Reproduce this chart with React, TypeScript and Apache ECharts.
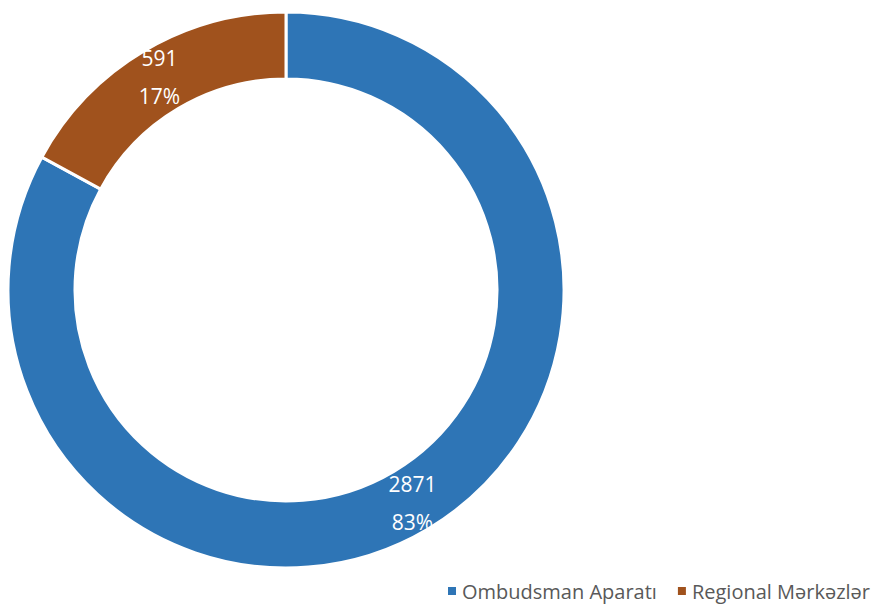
import React, { useEffect, useRef } from "react";
import * as echarts from "echarts";

const categories = ["Ombudsman Aparatı", "Regional Mərkəzlər"];
const values = [2871, 591];
const colors = ["#2E75B6", "#A0521D"];

export default function App() {
  const ref = useRef<HTMLDivElement>(null);
  useEffect(() => {
    if (!ref.current) return;
    const chart = echarts.init(ref.current, undefined, { renderer: "svg" });
    chart.setOption({
      animation: false,
      backgroundColor: "#ffffff",
      color: colors,
      legend: {
        data: categories,
        right: 4,
        top: 580,
        padding: 0,
        icon: "rect",
        itemWidth: 10,
        itemHeight: 10,
        itemGap: 19,
        textStyle: { fontFamily: "Open Sans", fontSize: 20, color: "#595959", lineHeight: 22 },
      },
      series: [
        {
          type: "pie",
          center: [286, 290],
          radius: [211, 278],
          startAngle: 90,
          clockwise: true,
          data: categories.map((name, i) => ({ name, value: values[i] })),
          itemStyle: { borderColor: "#ffffff", borderWidth: 3 },
          label: {
            show: true,
            position: "inside",
            formatter: (p: any) => `${p.value}\n${Math.round(p.percent)}%`,
            color: "#ffffff",
            fontFamily: "Open Sans",
            fontSize: 21,
            lineHeight: 38,
          },
          labelLine: { show: false },
          emphasis: { disabled: true },
        },
      ],
    });
    return () => chart.dispose();
  }, []);
  return (
    <div
      ref={ref}
      style={{ position: "fixed", left: 0, top: 0, width: 874, height: 606 }}
    />
  );
}
